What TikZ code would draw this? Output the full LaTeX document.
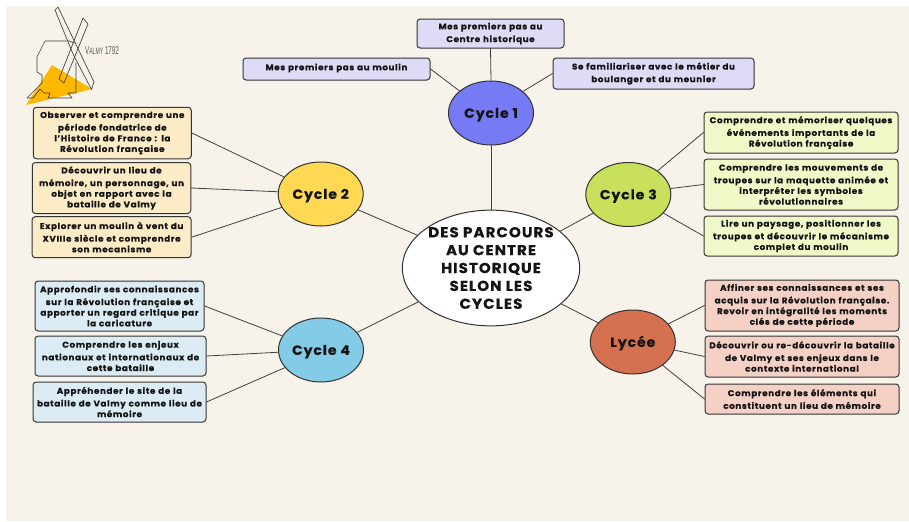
\documentclass[tikz,border=0pt]{standalone}
\usepackage{fontspec}
\usetikzlibrary{shapes.geometric}
\setmainfont{Poppins}[LetterSpace=7,FakeStretch=1.05,BoldFeatures={FakeBold=0.3}]
\newfontfamily\logofont{Liberation Sans}[FakeStretch=0.55]
\begin{document}
\begin{tikzpicture}[x=0.75pt,y=-0.75pt,
  line cap=round,
  bx/.style={draw=black!80,line width=0.75pt,rounded corners=2.4pt,align=center,inner sep=0pt,
    font=\bfseries\fontsize{6.3}{8}\selectfont,text=black!92,execute at begin node={\vspace*{1.5pt}}},
  cyc/.style={ellipse,draw=black!80,line width=0.75pt,inner sep=0pt,minimum width=63.75pt,minimum height=48pt,
    font=\bfseries\fontsize{10}{12}\selectfont,text=black!92},
  cylabel/.style={cyc,text height=9.5pt,text depth=2.2pt},
  link/.style={draw=black!75,line width=0.6pt}]
\definecolor{bgc}{HTML}{F7F3EB}
\definecolor{lav}{HTML}{DEDBF7}
\definecolor{cre}{HTML}{FBEBC6}
\definecolor{lim}{HTML}{F1F9C9}
\definecolor{blu}{HTML}{DCECF5}
\definecolor{ros}{HTML}{F5D0C5}
\definecolor{gld}{HTML}{FFB800}
\useasboundingbox (0,0) rectangle (909,521);
\fill[white] (0,0) rectangle (909,521);
\fill[bgc] (6,6) rectangle (909,521);
% logo
\fill[gld] (52,65) -- (92,89) -- (26,105) -- cycle;
\draw[black!75,line width=0.5pt,line join=round]
  (74,43) -- (69,41) -- (45,41) -- (37,57) -- (37,72) -- (42,75) -- (42,83) -- (27,98) -- (33,98) -- (40,89) -- (44,93) -- (50,93) -- (48,98) -- (72,98) -- (68,93) -- (76,93) -- (76,63);
\draw[black!75,line width=0.5pt,line join=round]
  (55,10) -- (58,7) -- (94,82) -- (91.5,89.5) -- (73,54) -- cycle;
\draw[black!75,line width=0.5pt,line join=round]
  (83,18) -- (88,24) -- (64,83) -- (59,79) -- cycle;
\node[inner sep=0pt,text=black!65,font=\logofont\fontsize{8.5}{9}\selectfont] (logo) at (102,50.5) {V{\fontsize{7}{9}\selectfont ALMY} 1792};
% boxes
\newcommand{\boxn}[7]{\node[bx,fill=#6,minimum width=#4*0.75pt,minimum height=#5*0.75pt,text width=#4*0.75pt-3pt] (#1) at (#2,#3) {#7};}
\boxn{a1}{490.5}{33.5}{147}{29}{lav}{Mes premiers pas au\\Centre historique}
\boxn{a2}{336.5}{69}{187}{22}{lav}{Mes premiers pas au moulin}
\boxn{a3}{653.5}{73.5}{201}{31}{lav}{Se familiariser avec le métier du\\boulanger et du meunier}
\boxn{b1}{112.3}{133}{158}{51.5}{cre}{Observer et comprendre une\\période fondatrice de\\l’Histoire de France : la\\Révolution française}
\boxn{b2}{111.5}{188}{158.5}{51}{cre}{Découvrir un lieu de\\mémoire, un personnage, un\\objet en rapport avec la\\bataille de Valmy}
\boxn{b3}{111.6}{237.2}{159}{41}{cre}{Explorer un moulin à vent du\\XVIIIe siècle et comprendre\\son mecanisme}
\boxn{c1}{801}{132.5}{194}{41}{lim}{Comprendre et mémoriser quelques\\événements importants de la\\Révolution française}
\boxn{c2}{801}{184.5}{194}{51}{lim}{Comprendre les mouvements de\\troupes sur la maquette animée et\\interpréter les symboles\\révolutionnaires}
\boxn{c3}{801}{236}{194}{40}{lim}{Lire un paysage, positionner les\\troupes et découvrir le mécanisme\\complet du moulin}
\boxn{d1}{119.5}{306}{169}{50}{blu}{Approfondir ses connaissances\\sur la Révolution française et\\apporter un regard critique par\\la caricature}
\boxn{d2}{120.5}{356}{171}{40}{blu}{Comprendre les enjeux\\nationaux et internationaux de\\cette bataille}
\boxn{d3}{119.5}{402}{173}{40}{blu}{Appréhender le site de la\\bataille de Valmy comme lieu de\\mémoire}
\boxn{e1}{802}{305.5}{194}{51}{ros}{Affiner ses connaissances et ses\\acquis sur la Révolution française.\\Revoir en intégralité les moments\\clés de cette période}
\boxn{e2}{802}{356.5}{194}{41}{ros}{Découvrir ou re-découvrir la bataille\\de Valmy et ses enjeux dans le\\contexte international}
\boxn{e3}{802}{399}{194}{30}{ros}{Comprendre les éléments qui\\constituent un lieu de mémoire}
% ellipses
\node[cyc,fill=white,minimum width=132pt,minimum height=83pt,font=\bfseries\fontsize{10.8}{13.4}\selectfont,align=center] (hub) at (491,268) {DES PARCOURS\\AU CENTRE\\HISTORIQUE\\SELON LES\\CYCLES};
\node[cylabel,fill={rgb,255:red,118;green,122;blue,245}] (k1) at (491,113) {Cycle 1};
\node[cylabel,fill={rgb,255:red,255;green,217;blue,84}] (k2) at (320.7,194) {Cycle 2};
\node[cylabel,fill={rgb,255:red,200;green,224;blue,92}] (k3) at (628.3,194.5) {Cycle 3};
\node[cylabel,fill={rgb,255:red,132;green,203;blue,232}] (k4) at (321,350) {Cycle 4};
\node[cylabel,fill={rgb,255:red,213;green,112;blue,80}] (k5) at (632.8,342) {Lycée};
% links
\draw[link] (a1.south) -- (k1.north);
\draw[link] (a2.east) -- (k1.145);
\draw[link] (a3.west) -- (k1.34);
\draw[link] (k1.south) -- (hub.north);
\draw[link] (k2.-23) -- (hub.156);
\draw[link] (k3.208) -- (hub.28);
\draw[link] (k4.26) -- (hub.205);
\draw[link] (k5.151) -- (hub.-27);
\draw[link] (b1.east) -- (k2.155);
\draw[link] (b2.east) -- (k2.177);
\draw[link] (b3.east) -- (k2.199);
\draw[link] (c1.west) -- (k3.39);
\draw[link] (c2.west) -- (k3.8);
\draw[link] (c3.west) -- (k3.-28);
\draw[link] (d1.east) -- (k4.160);
\draw[link] (d2.east) -- (k4.183);
\draw[link] (d3.east) -- (k4.206);
\draw[link] (e1.west) -- (k5.27);
\draw[link] (e2.west) -- (k5.-11);
\draw[link] (e3.west) -- (k5.-38);
\end{tikzpicture}
\end{document}
